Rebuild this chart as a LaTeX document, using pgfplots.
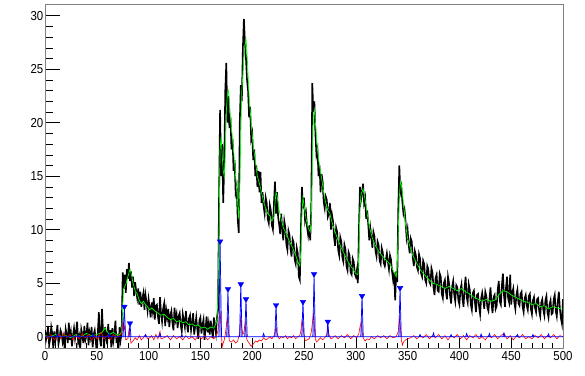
\documentclass[border=0pt]{standalone}
\usepackage{pgfplots}
\usepackage{pgfplotstable}
\pgfplotsset{compat=1.18}
\usepackage{fontspec}
\setmainfont{Liberation Sans}
\newfontfamily\tickfont[FakeStretch=0.88]{Liberation Sans}
\definecolor{rgreen}{RGB}{0,255,0}
\definecolor{rred}{RGB}{255,0,0}
\definecolor{rblue}{RGB}{0,0,255}
% black spectrum, one value per channel 0..500
\pgfplotstableread[row sep=\\]{
y\\
0.6\\ -0.3\\ 0.2\\ 1.0\\ -0.8\\ -0.2\\ 0.9\\ 0.3\\ -1.1\\ 0.5\\
-0.4\\ 0.1\\ 1.1\\ -0.7\\ -0.1\\ 0.6\\ 0.3\\ -0.5\\ 0.0\\ -1.2\\
0.7\\ 0.2\\ -0.6\\ 1.3\\ -0.3\\ 0.4\\ -0.9\\ 0.1\\ 0.8\\ -0.2\\
0.5\\ 1.4\\ -0.5\\ 0.0\\ -1.2\\ 0.7\\ 0.2\\ -0.6\\ 1.0\\ -0.3\\
0.1\\ 1.3\\ -0.8\\ 0.4\\ -0.1\\ 0.9\\ -1.0\\ 0.2\\ 0.6\\ -0.4\\
-1.6\\ 0.4\\ 2.3\\ -0.2\\ -0.9\\ 2.6\\ 0.5\\ -1.3\\ 0.9\\ 0.1\\
-0.7\\ 1.2\\ -0.2\\ 0.6\\ -1.0\\ 0.8\\ -0.4\\ 0.3\\ 1.5\\ -0.6\\
0.2\\ -1.1\\ 0.9\\ -0.3\\ 0.4\\ 6.0\\ 4.5\\ 5.8\\ 4.1\\ 6.3\\
5.4\\ 6.9\\ 5.2\\ 6.1\\ 4.6\\ 5.6\\ 3.8\\ 5.1\\ 4.3\\ 3.6\\
4.5\\ 3.0\\ 4.2\\ 2.8\\ 3.6\\ 4.1\\ 2.5\\ 3.9\\ 3.2\\ 2.4\\
3.5\\ 2.7\\ 1.8\\ 3.2\\ 2.4\\ 3.6\\ 1.6\\ 2.9\\ 3.0\\ 1.9\\
1.2\\ 3.7\\ 2.2\\ 1.4\\ 2.6\\ 3.1\\ 1.0\\ 2.5\\ 1.8\\ 2.6\\
0.9\\ 2.0\\ 2.4\\ 1.3\\ 0.6\\ 2.7\\ 1.6\\ 2.1\\ 0.8\\ 1.9\\
2.2\\ 1.1\\ 0.5\\ 2.1\\ 1.5\\ 0.9\\ 2.4\\ 1.2\\ 0.4\\ 1.7\\
2.0\\ 0.6\\ 1.3\\ 2.2\\ 0.2\\ 1.0\\ 1.8\\ 0.7\\ -0.2\\ 1.5\\
1.8\\ 0.3\\ 1.1\\ 1.6\\ -0.3\\ 0.8\\ 1.9\\ 0.4\\ 1.2\\ 0.2\\
1.5\\ 0.6\\ -0.1\\ 1.8\\ 1.0\\ 0.3\\ 1.8\\ 2.5\\ 13\\ 21.2\\
15\\ 18\\ 12.5\\ 16\\ 23\\ 25.6\\ 20\\ 22.5\\ 19.5\\ 20.5\\
17.5\\ 18.5\\ 15.5\\ 16.5\\ 13.5\\ 14\\ 11\\ 9.7\\ 20\\ 23.5\\
22\\ 27\\ 29.7\\ 27.5\\ 26\\ 24\\ 23\\ 20.5\\ 21.5\\ 18.5\\
19\\ 16.5\\ 17.5\\ 15\\ 16\\ 14\\ 15.5\\ 13.5\\ 15.4\\ 12.5\\
13.5\\ 12.2\\ 11.5\\ 13.0\\ 12.5\\ 11.0\\ 10.6\\ 12.3\\ 11.8\\ 10.4\\
10\\ 12.5\\ 14.5\\ 11.5\\ 13.5\\ 11.2\\ 10.5\\ 9.6\\ 11.5\\ 10.1\\
9\\ 10.8\\ 10.2\\ 8.6\\ 8.1\\ 9.9\\ 9.5\\ 8.2\\ 7.5\\ 9.1\\
8.8\\ 7.2\\ 6.8\\ 8.3\\ 7.8\\ 5.6\\ 5.3\\ 10\\ 14\\ 12\\
13\\ 10.9\\ 11.5\\ 10.2\\ 9.5\\ 10.4\\ 9.0\\ 12\\ 23.7\\ 21\\
22\\ 19\\ 17\\ 17.5\\ 15\\ 16\\ 13.5\\ 15.2\\ 14.5\\ 12.6\\
12\\ 13.1\\ 12.8\\ 11.2\\ 11.5\\ 12.5\\ 10\\ 11.4\\ 10.8\\ 9.3\\
8.5\\ 10.2\\ 9.8\\ 8.1\\ 7.6\\ 9.3\\ 8.9\\ 7.4\\ 7\\ 8.6\\
8.2\\ 6.6\\ 6.2\\ 7.9\\ 7.6\\ 6.0\\ 5.8\\ 7.3\\ 7.0\\ 5.9\\
5.6\\ 6.2\\ 5.0\\ 10\\ 14\\ 12.8\\ 13.5\\ 14.3\\ 12.5\\ 13\\
11\\ 11.8\\ 10.5\\ 9.0\\ 10.2\\ 9.4\\ 8.3\\ 9.8\\ 9.4\\ 8.0\\
7.5\\ 8.9\\ 8.6\\ 7.1\\ 6.8\\ 8.3\\ 7.9\\ 6.9\\ 6.6\\ 7.2\\
7.8\\ 7.0\\ 6.3\\ 7.6\\ 7.2\\ 6.1\\ 5.3\\ 6.0\\ 3.4\\ 6.1\\
5.1\\ 12\\ 16\\ 13.5\\ 14\\ 12.5\\ 11.5\\ 11.9\\ 10.8\\ 9.3\\
10\\ 8.6\\ 7.8\\ 9.2\\ 8.9\\ 7.4\\ 6.6\\ 8.0\\ 7.6\\ 6.5\\
6.2\\ 7.7\\ 7.3\\ 5.9\\ 5.6\\ 7.1\\ 6.8\\ 5.3\\ 5.0\\ 6.6\\
6.3\\ 5.1\\ 4.9\\ 6.4\\ 6.0\\ 4.6\\ 3.9\\ 5.5\\ 5.8\\ 4.3\\
4.2\\ 5.9\\ 5.6\\ 4.0\\ 3.6\\ 5.0\\ 5.3\\ 4.2\\ 3.5\\ 5.6\\
5.0\\ 3.8\\ 3.1\\ 4.7\\ 5.2\\ 3.9\\ 3.3\\ 4.8\\ 4.6\\ 3.4\\
3.0\\ 4.4\\ 4.9\\ 3.5\\ 2.8\\ 4.6\\ 5.6\\ 3.7\\ 3.2\\ 4.9\\
4.4\\ 3.0\\ 2.5\\ 4.1\\ 4.3\\ 3.2\\ 2.3\\ 3.9\\ 4.0\\ 2.8\\
2.1\\ 3.6\\ 4.1\\ 3.4\\ 2.6\\ 4.2\\ 3.8\\ 2.7\\ 2.4\\ 3.5\\
4.6\\ 3.1\\ 2.2\\ 3.7\\ 3.9\\ 2.6\\ 2.9\\ 4.4\\ 5.2\\ 3.3\\
3.0\\ 4.8\\ 5.9\\ 3.9\\ 2.8\\ 4.6\\ 5.6\\ 3.6\\ 3.2\\ 5.8\\
3.0\\ 4.1\\ 4.5\\ 3.2\\ 2.6\\ 3.9\\ 4.4\\ 3.1\\ 2.9\\ 4.0\\
4.2\\ 2.8\\ 2.3\\ 3.6\\ 3.9\\ 2.9\\ 2.5\\ 3.8\\ 4.0\\ 2.6\\
2.1\\ 3.4\\ 3.7\\ 2.7\\ 2.3\\ 3.5\\ 3.6\\ 2.4\\ 1.9\\ 3.2\\
3.5\\ 2.5\\ 2.0\\ 3.4\\ 3.8\\ 2.3\\ 1.8\\ 3.0\\ 3.4\\ 2.1\\
2.2\\ 3.5\\ 3.9\\ 2.4\\ 1.9\\ 3.3\\ 4.2\\ 2.6\\ 1.7\\ 1.2\\
3.5\\
}\blackdata
\begin{document}
\begin{tikzpicture}
\useasboundingbox (-45pt,-27.3pt) rectangle (540pt,347.7pt);
\begin{axis}[
  scale only axis,
  width=518pt, height=343pt,
  xmin=0, xmax=500, ymin=-1.03, ymax=31.03,
  xtick={0,50,...,500}, ytick={0,5,...,30},
  minor x tick num=4, minor y tick num=4,
  tick align=inside,
  xtick pos=bottom, ytick pos=left,
  axis line style={gray},
  tick style={black, line width=0.5pt},
  xtick style={/pgfplots/major tick length=10pt, /pgfplots/minor tick length=5pt},
  ytick style={/pgfplots/major tick length=15pt, /pgfplots/minor tick length=8pt},
  /pgf/number format/assume math mode=true,
  ticklabel style={font=\tickfont\fontsize{13}{15}\selectfont},
  yticklabel style={inner sep=1.5pt},
  xticklabel style={inner sep=1pt, yshift=-3pt},
  clip=true,
]
% black spectrum
\addplot[black, line width=1.6pt] table[x expr=\coordindex, y=y] {\blackdata};
% green smoothed
\addplot[rgreen, line width=0.7pt] table {
x y
0 0.1
5 0.0
10 0.2
15 0.0
20 0.1
25 -0.1
30 0.2
35 0.0
40 0.3
45 0.1
50 0.2
55 0.4
58 0.8
62 0.2
66 0.4
70 0.1
73 0.3
74 0.5
75 3.0
76 4.5
78 4.9
80 5.6
82 6.3
83 6.0
85 5.0
87 4.3
89 4.0
91 3.4
93 3.1
95 3.3
97 3.0
99 2.8
101 2.5
103 2.7
106 2.4
109 2.2
112 2.0
115 2.1
118 1.8
121 1.6
124 1.7
127 1.4
130 1.5
133 1.3
136 1.4
139 1.1
142 1.2
145 1.0
148 1.1
151 0.8
154 0.9
157 0.7
160 0.9
163 0.8
165 1.2
166 1.6
167 4
168 10
169 17.5
170 18.7
171 17
172 15.5
173 15
174 17
175 21
176 22.6
177 23
178 22
179 20.5
180 19.5
182 17.5
184 15
186 12.5
187 11
188 14
189 19
190 23
192 26
194 27.9
195 26.5
197 22.5
199 20
201 17.8
203 16.5
205 15
207 14.3
209 13.5
211 12.6
213 12
215 11.5
217 11.3
219 10.8
221 11.2
222 12.5
223 13.5
224 13.2
226 11.8
228 11
230 10.2
233 9.6
236 8.9
239 8.3
242 7.6
244 7.0
246 6.6
247 8
248 11.5
249 13
250 12.3
252 11
254 10.2
256 9.8
257 11
258 16
259 20.6
260 21.2
261 20
263 17.5
265 16
267 14.8
269 13.5
271 12.5
273 11.8
275 11.5
277 10.7
280 9.8
283 9.0
286 8.3
289 7.7
292 7.1
295 6.6
298 6.2
300 5.9
302 5.8
303 8
304 12
305 13.3
307 13.8
309 12.8
311 11.5
313 10.3
316 9.2
319 8.5
322 8.0
325 7.6
328 7.3
331 7.0
334 6.6
337 6.0
339 5.6
340 6.5
341 10
342 13
343 14.5
344 14.2
346 12.5
348 10.5
350 9.2
352 8.5
355 7.6
358 7.0
362 6.3
366 5.8
370 5.4
374 5.0
378 4.9
382 4.7
386 4.5
390 4.7
394 4.5
398 4.3
402 4.5
406 4.2
410 4.0
414 3.7
418 3.5
422 3.3
426 3.5
430 3.3
434 3.4
438 3.9
442 4.3
446 4.2
450 3.9
454 3.7
458 3.5
462 3.3
466 3.2
470 3.0
474 3.1
478 2.8
482 2.9
486 2.6
490 2.8
494 2.7
498 2.6
500 2.6
};
% red residual
\addplot[rred, line width=0.6pt] table {
x y
0 0.1
3 -0.2
5 0.1
6 0.2
9 -0.3
12 0.1
14 0.2
15 -0.2
18 0.3
21 -0.1
24 0.2
26 -0.1
27 -0.3
30 0.1
33 -0.2
36 0.3
37 0.0
39 -0.1
42 0.2
45 -0.3
48 0.1
49 -0.1
51 -0.2
54 0.4
57 -0.2
60 0.1
63 -0.3
66 0.2
69 -0.1
72 0.1
74 0.3
75 1.3
76 0.6
77 1.0
78 -0.3
80 -0.2
81 0.6
82 0.1
83 -0.6
85 -0.4
87 -0.1
89 -0.3
91 0.1
93 -0.3
95 -0.1
97 0.2
99 -0.2
101 -0.1
103 0.1
105 -0.3
107 0.2
109 -0.2
111 0.5
112 -0.2
115 -0.1
118 0.1
121 -0.3
124 0.1
127 -0.2
130 0.0
133 -0.3
136 0.1
139 -0.2
142 0.0
145 -0.3
148 0.1
151 -0.2
154 0.1
157 -0.3
160 0.0
163 -0.2
166 0.2
167 0.6
168 1.5
169 2.4
170 0.8
171 -1.0
172 -0.6
173 -0.3
174 0.2
175 1.0
176 1.8
177 0.5
178 -0.4
180 -0.5
182 -0.3
184 -0.6
186 -0.4
188 0.4
189 1.9
190 0.8
191 0.2
192 0.4
193 1.2
194 0.3
195 -0.3
197 -0.6
199 -0.9
201 -0.7
203 -0.4
205 -0.5
207 -0.3
209 -0.4
211 -0.1
213 -0.3
215 -0.2
217 0.0
219 -0.2
221 0.1
222 0.4
223 0.9
224 0.3
226 -0.2
228 0.0
230 -0.1
232 0.1
234 -0.2
236 0.0
238 -0.1
240 0.1
242 -0.2
244 0.0
246 0.1
247 0.6
248 1.5
249 1.0
250 0.2
251 -0.4
253 -0.3
255 -0.2
257 0.4
258 1.2
259 2.2
260 0.8
261 -0.2
262 -0.5
264 -0.3
266 -0.1
268 -0.3
270 -0.1
272 0.2
273 0.8
274 0.2
276 -0.2
278 -0.1
280 0.1
283 -0.2
286 0.1
289 -0.1
292 0.2
295 -0.2
298 0.1
301 -0.1
303 0.3
304 0.9
305 1.3
306 0.5
307 -0.1
309 -0.4
311 -0.2
313 -0.3
315 0.0
318 -0.2
321 0.1
324 -0.1
327 0.1
330 -0.2
333 0.1
336 -0.1
339 0.0
341 0.5
342 1.7
343 0.9
344 -0.3
345 -0.8
346 -0.5
348 -0.3
350 -0.2
353 -0.1
356 0.1
359 -0.2
362 0.1
365 -0.1
368 0.2
371 -0.2
374 0.1
377 -0.1
380 0.2
383 -0.2
386 0.1
389 -0.3
392 0.1
395 -0.1
398 0.2
401 -0.2
404 0.1
407 -0.3
410 0.1
413 -0.1
416 0.2
419 -0.2
422 0.0
425 -0.3
428 0.1
431 -0.1
434 0.2
437 -0.2
440 0.1
443 0.3
446 -0.2
449 0.1
452 -0.3
455 0.1
458 -0.1
461 0.2
464 -0.2
467 0.0
470 -0.2
473 0.1
476 -0.1
479 0.2
482 -0.2
485 0.1
488 -0.1
491 0.2
494 -0.2
497 0.1
500 0.0
};
% blue deconvolved spectrum
\addplot[rblue, line width=0.7pt, fill=rblue, fill opacity=0.3] table {
x y
0 0
11 0
12 0.2
13 0
31 0
32 0.15
33 0
45 0
46 0.25
47 0
61 0
62 0.3
63 0
75.2 0
76.6 2.8
77.8 0
81 0
82 1.25
83 0
96 0
97 0.2
98 0
110 0
111 0.3
112 0
131 0
132 0.15
133 0
167.8 0
169 8.9
170.4 0
175.4 0
176.6 4.45
177.8 0
187.8 0
189 4.9
190.2 0
192.8 0
194 3.5
195.2 0
210 0
211 0.3
212 0
221.8 0
223 2.95
224.2 0
247.8 0
249 3.25
250.2 0
258.5 0
259.7 5.85
260.9 0
272 0
273 1.4
274 0
304.8 0
306 3.8
307.2 0
341.5 0
342.7 4.55
343.9 0
361 0
362 0.2
363 0
374 0
375 0.35
376 0
391 0
392 0.2
393 0
406 0
407 0.3
408 0
420 0
421 0.25
422 0
428 0
429 0.3
430 0
442 0
443 0.35
444 0
455 0
456 0.2
457 0
470 0
471 0.2
472 0
485 0
486 0.25
487 0
500 0
} -- cycle;
% peak markers
\addplot[only marks, mark=triangle*, mark size=3.2pt,
  mark options={rotate=180, fill=rblue, draw=rblue}] coordinates {
(76.6,2.8) (82,1.25) (169,8.9) (176.6,4.45) (189,4.9) (194,3.5)
(223,2.95) (249,3.25) (259.7,5.85) (273,1.4) (306,3.8) (342.7,4.55)
};
\end{axis}
\end{tikzpicture}
\end{document}
